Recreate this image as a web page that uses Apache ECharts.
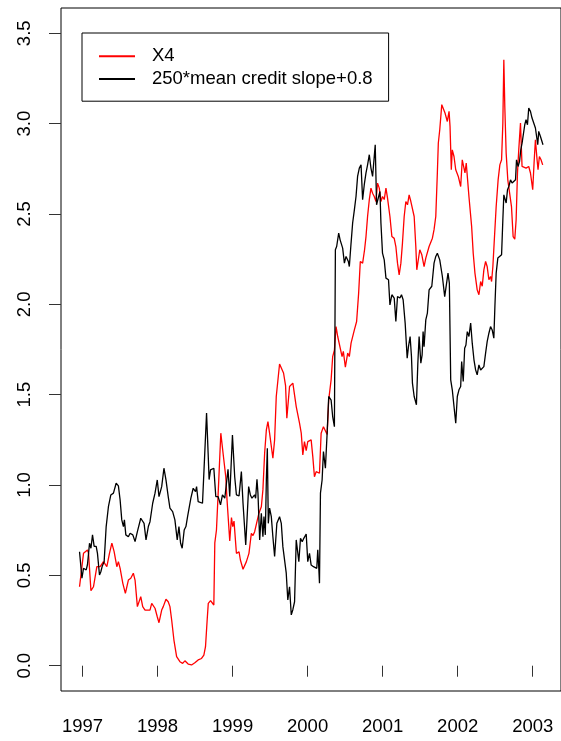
<!DOCTYPE html>
<html>
<head>
<meta charset="utf-8">
<title>X4 vs credit slope</title>
<script src="https://cdn.jsdelivr.net/npm/echarts@6/dist/echarts.min.js"></script>
<style>
  html, body { margin: 0; padding: 0; background: #fff; }
  #chart { width: 561px; height: 741px; }
</style>
</head>
<body>
<div id="chart"></div>
<script>
// time in decimal years
var x4Years = [
  1996.960, 1996.979, 1997.013, 1997.036, 1997.066, 1997.080, 1997.112, 1997.146, 1997.169, 1997.191,
  1997.235, 1997.279, 1997.324, 1997.359, 1997.391, 1997.421, 1997.457, 1997.478, 1997.501, 1997.537,
  1997.571, 1997.611, 1997.643, 1997.677, 1997.700, 1997.731, 1997.749, 1997.776, 1997.802, 1997.833,
  1997.899, 1997.922, 1997.966, 1997.996, 1998.019, 1998.055, 1998.076, 1998.112, 1998.142, 1998.165,
  1998.188, 1998.218, 1998.254, 1998.298, 1998.334, 1998.364, 1998.408, 1998.453, 1998.497, 1998.541,
  1998.586, 1998.617, 1998.639, 1998.661, 1998.676, 1998.706, 1998.732, 1998.750, 1998.763, 1998.785,
  1998.816, 1998.843, 1998.873, 1998.909, 1998.926, 1998.962, 1998.985, 1999.002, 1999.019, 1999.051,
  1999.086, 1999.104, 1999.139, 1999.184, 1999.218, 1999.250, 1999.272, 1999.294, 1999.317, 1999.351,
  1999.383, 1999.404, 1999.427, 1999.450, 1999.471, 1999.493, 1999.516, 1999.537, 1999.560, 1999.582,
  1999.604, 1999.626, 1999.646, 1999.679, 1999.706, 1999.723, 1999.759, 1999.803, 1999.848, 1999.892,
  1999.915, 1999.936, 1999.958, 1999.981, 2000.002, 2000.047, 2000.069, 2000.091, 2000.114, 2000.135,
  2000.158, 2000.180, 2000.211, 2000.237, 2000.260, 2000.281, 2000.313, 2000.334, 2000.357, 2000.379,
  2000.401, 2000.423, 2000.459, 2000.476, 2000.503, 2000.534, 2000.556, 2000.579, 2000.623, 2000.653,
  2000.680, 2000.702, 2000.733, 2000.759, 2000.778, 2000.799, 2000.822, 2000.844, 2000.866, 2000.888,
  2000.911, 2000.932, 2000.955, 2000.977, 2000.998, 2001.021, 2001.044, 2001.065, 2001.078, 2001.097,
  2001.123, 2001.154, 2001.176, 2001.198, 2001.220, 2001.243, 2001.264, 2001.287, 2001.309, 2001.331,
  2001.353, 2001.376, 2001.397, 2001.420, 2001.442, 2001.455, 2001.477, 2001.495, 2001.522, 2001.552,
  2001.575, 2001.596, 2001.619, 2001.641, 2001.663, 2001.685, 2001.708, 2001.729, 2001.742, 2001.761,
  2001.788, 2001.805, 2001.831, 2001.862, 2001.885, 2001.898, 2001.915, 2001.928, 2001.951, 2001.974,
  2002.008, 2002.040, 2002.061, 2002.084, 2002.097, 2002.114, 2002.150, 2002.186, 2002.207, 2002.230,
  2002.260, 2002.283, 2002.306, 2002.327, 2002.349, 2002.372, 2002.393, 2002.416, 2002.438, 2002.452,
  2002.469, 2002.486, 2002.513, 2002.539, 2002.562, 2002.585, 2002.602, 2002.615, 2002.628, 2002.646,
  2002.668, 2002.691, 2002.717, 2002.739, 2002.761, 2002.779, 2002.797, 2002.814, 2002.837, 2002.858,
  2002.881, 2002.911, 2002.947, 2002.970, 2003.000, 2003.018, 2003.036, 2003.058, 2003.071, 2003.089,
  2003.111, 2003.133
];
var x4Values = [
  0.437, 0.446, 0.622, 0.613, 0.640, 0.622, 0.415, 0.437, 0.437, 0.548,
  0.548, 0.576, 0.548, 0.622, 0.678, 0.631, 0.548, 0.576, 0.539, 0.456,
  0.400, 0.474, 0.484, 0.512, 0.474, 0.327, 0.318, 0.382, 0.327, 0.308,
  0.308, 0.345, 0.318, 0.271, 0.238, 0.308, 0.327, 0.368, 0.354, 0.327,
  0.253, 0.142, 0.050, 0.022, 0.013, 0.027, 0.009, 0.004, 0.016, 0.032,
  0.040, 0.059, 0.105, 0.253, 0.345, 0.360, 0.354, 0.336, 0.680, 0.751,
  1.030, 1.287, 1.176, 1.046, 0.917, 0.690, 0.820, 0.770, 0.800, 0.622,
  0.630, 0.585, 0.534, 0.576, 0.622, 0.733, 0.720, 0.742, 0.733, 0.844,
  0.880, 0.973, 1.176, 1.305, 1.351, 1.287, 1.296, 1.148, 1.250, 1.490,
  1.580, 1.670, 1.670, 1.620, 1.550, 1.370, 1.545, 1.564, 1.434, 1.342,
  1.287, 1.167, 1.240, 1.190, 1.240, 1.250, 1.157, 1.046, 1.074, 1.074,
  1.065, 1.287, 1.323, 1.333, 1.280, 1.471, 1.582, 1.711, 1.747, 1.877,
  1.822, 1.830, 1.711, 1.740, 1.652, 1.730, 1.711, 1.785, 1.859, 1.905,
  2.062, 2.237, 2.228, 2.302, 2.375, 2.486, 2.579, 2.643, 2.615, 2.597,
  2.569, 2.671, 2.643, 2.569, 2.597, 2.580, 2.643, 2.588, 2.597, 2.486,
  2.375, 2.365, 2.320, 2.228, 2.163, 2.228, 2.339, 2.486, 2.569, 2.551,
  2.606, 2.569, 2.579, 2.486, 2.320, 2.191, 2.191, 2.302, 2.274, 2.209,
  2.256, 2.265, 2.320, 2.311, 2.366, 2.413, 2.486, 2.727, 2.893, 2.966,
  3.105, 3.105, 3.059, 3.012, 3.068, 2.985, 2.745, 2.855, 2.818, 2.745,
  2.708, 2.652, 2.800, 2.809, 2.727, 2.782, 2.597, 2.431, 2.283, 2.173,
  2.080, 2.053, 2.126, 2.100, 2.191, 2.237, 2.209, 2.136, 2.154, 2.126,
  2.209, 2.339, 2.541, 2.689, 2.772, 2.800, 3.003, 3.354, 3.095, 2.837,
  2.689, 2.680, 2.541, 2.375, 2.361, 2.468, 2.727, 2.855, 3.003, 2.763,
  2.763, 2.754, 2.763, 2.727, 2.634, 2.782, 2.911, 2.800, 2.745, 2.818,
  2.800, 2.772
];

var slopeYears = [
  1996.960, 1996.992, 1997.013, 1997.049, 1997.066, 1997.093, 1997.112, 1997.133, 1997.155, 1997.182,
  1997.199, 1997.226, 1997.244, 1997.262, 1997.288, 1997.315, 1997.345, 1997.377, 1997.412, 1997.448,
  1997.478, 1997.501, 1997.523, 1997.545, 1997.558, 1997.577, 1997.611, 1997.634, 1997.670, 1997.700,
  1997.731, 1997.757, 1997.776, 1997.802, 1997.820, 1997.846, 1997.877, 1997.899, 1997.935, 1997.966,
  1997.996, 1998.019, 1998.055, 1998.085, 1998.112, 1998.142, 1998.165, 1998.201, 1998.231, 1998.262,
  1998.285, 1998.307, 1998.328, 1998.355, 1998.378, 1998.400, 1998.421, 1998.444, 1998.475, 1998.506,
  1998.520, 1998.541, 1998.564, 1998.599, 1998.617, 1998.653, 1998.674, 1998.687, 1998.706, 1998.732,
  1998.750, 1998.776, 1998.807, 1998.839, 1998.865, 1998.896, 1998.918, 1998.939, 1998.962, 1998.998,
  1999.028, 1999.051, 1999.086, 1999.104, 1999.117, 1999.139, 1999.175, 1999.192, 1999.214, 1999.237,
  1999.258, 1999.294, 1999.307, 1999.325, 1999.338, 1999.361, 1999.383, 1999.404, 1999.418, 1999.436,
  1999.450, 1999.463, 1999.476, 1999.493, 1999.516, 1999.537, 1999.560, 1999.590, 1999.626, 1999.649,
  1999.670, 1999.693, 1999.715, 1999.736, 1999.759, 1999.782, 1999.803, 1999.826, 1999.848, 1999.869,
  1999.883, 1999.905, 1999.928, 1999.949, 1999.981, 2000.002, 2000.025, 2000.047, 2000.078, 2000.104,
  2000.122, 2000.135, 2000.148, 2000.158, 2000.171, 2000.193, 2000.211, 2000.237, 2000.260, 2000.281,
  2000.313, 2000.334, 2000.357, 2000.370, 2000.387, 2000.414, 2000.433, 2000.467, 2000.490, 2000.512,
  2000.543, 2000.556, 2000.579, 2000.600, 2000.623, 2000.645, 2000.666, 2000.689, 2000.712, 2000.733,
  2000.755, 2000.778, 2000.799, 2000.822, 2000.844, 2000.866, 2000.888, 2000.901, 2000.919, 2000.941,
  2000.964, 2000.977, 2000.998, 2001.021, 2001.044, 2001.078, 2001.097, 2001.123, 2001.154, 2001.176,
  2001.198, 2001.230, 2001.251, 2001.273, 2001.300, 2001.327, 2001.344, 2001.366, 2001.384, 2001.397,
  2001.420, 2001.450, 2001.469, 2001.486, 2001.509, 2001.526, 2001.539, 2001.552, 2001.575, 2001.596,
  2001.619, 2001.655, 2001.685, 2001.708, 2001.729, 2001.761, 2001.796, 2001.827, 2001.849, 2001.871,
  2001.889, 2001.907, 2001.928, 2001.951, 2001.974, 2001.995, 2002.017, 2002.040, 2002.053, 2002.074,
  2002.093, 2002.110, 2002.128, 2002.150, 2002.173, 2002.194, 2002.217, 2002.239, 2002.260, 2002.283,
  2002.306, 2002.327, 2002.349, 2002.372, 2002.393, 2002.416, 2002.438, 2002.460, 2002.482, 2002.496,
  2002.513, 2002.535, 2002.558, 2002.585, 2002.602, 2002.615, 2002.628, 2002.646, 2002.664, 2002.682,
  2002.704, 2002.725, 2002.748, 2002.771, 2002.784, 2002.805, 2002.824, 2002.841, 2002.858, 2002.881,
  2002.894, 2002.911, 2002.930, 2002.947, 2002.970, 2002.991, 2003.014, 2003.036, 2003.058, 2003.067,
  2003.080, 2003.103, 2003.124, 2003.137
];
var slopeValues = [
  0.631, 0.484, 0.539, 0.530, 0.560, 0.678, 0.650, 0.724, 0.660, 0.660,
  0.622, 0.502, 0.520, 0.550, 0.576, 0.770, 0.880, 0.945, 0.955, 1.010,
  0.995, 0.917, 0.807, 0.770, 0.807, 0.724, 0.714, 0.733, 0.724, 0.687,
  0.742, 0.751, 0.816, 0.807, 0.788, 0.696, 0.770, 0.797, 0.899, 0.955,
  1.028, 0.936, 0.991, 1.093, 1.028, 0.936, 0.872, 0.853, 0.807, 0.696,
  0.770, 0.678, 0.650, 0.751, 0.770, 0.825, 0.825, 0.927, 0.982, 0.964,
  0.991, 0.908, 0.899, 0.899, 0.899, 1.398, 1.176, 1.030, 1.084, 1.084,
  1.093, 0.936, 0.936, 0.890, 0.945, 0.927, 0.936, 1.087, 0.936, 1.277,
  1.046, 0.945, 0.940, 0.945, 1.074, 0.899, 0.668, 0.807, 0.991, 0.945,
  0.927, 0.945, 0.927, 1.032, 0.955, 0.696, 0.844, 0.714, 0.825, 0.724,
  1.030, 1.204, 0.788, 0.872, 0.825, 0.714, 0.604, 0.788, 0.825, 0.788,
  0.659, 0.659, 0.512, 0.364, 0.437, 0.281, 0.310, 0.354, 0.696, 0.705,
  0.576, 0.705, 0.686, 0.705, 0.729, 0.576, 0.622, 0.557, 0.548, 0.557,
  0.539, 0.641, 0.548, 0.456, 0.955, 1.028, 1.185, 1.093, 1.287, 1.490,
  1.470, 1.379, 1.323, 2.302, 2.320, 2.394, 2.357, 2.311, 2.228, 2.265,
  2.237, 2.209, 2.339, 2.450, 2.523, 2.597, 2.708, 2.754, 2.772, 2.579,
  2.662, 2.727, 2.772, 2.828, 2.754, 2.708, 2.818, 2.883, 2.551, 2.560,
  2.625, 2.450, 2.283, 2.246, 2.145, 2.136, 1.997, 2.053, 2.035, 1.905,
  2.043, 2.035, 2.053, 2.025, 1.896, 1.702, 1.766, 1.822, 1.711, 1.564,
  1.490, 1.444, 1.674, 1.822, 1.674, 1.720, 1.849, 1.766, 1.914, 1.951,
  2.080, 2.100, 2.228, 2.265, 2.283, 2.246, 2.154, 2.043, 2.053, 2.173,
  2.117, 1.582, 1.527, 1.518, 1.342, 1.490, 1.527, 1.545, 1.683, 1.573,
  1.757, 1.775, 1.849, 1.822, 1.896, 1.785, 1.693, 1.637, 1.610, 1.665,
  1.637, 1.647, 1.655, 1.730, 1.794, 1.840, 1.877, 1.858, 1.813, 1.988,
  2.173, 2.256, 2.256, 2.274, 2.468, 2.606, 2.615, 2.561, 2.634, 2.652,
  2.689, 2.671, 2.662, 2.689, 2.800, 2.763, 2.790, 2.855, 2.892, 2.883,
  2.994, 3.022, 2.994, 3.086, 3.068, 3.031, 3.022, 2.976, 2.911, 2.883,
  2.957, 2.929, 2.929, 2.883
];

var yearTicks = [1997, 1998, 1999, 2000, 2001, 2002, 2003];
var valueTicks = [0, 0.5, 1, 1.5, 2, 2.5, 3, 3.5];
var seriesNames = ['X4', '250*mean credit slope+0.8'];

var FONT = '"Liberation Sans", Arial, Helvetica, sans-serif';

function zip(xs, ys) {
  return xs.map(function (x, i) { return [x, ys[i]]; });
}

var chart = echarts.init(document.getElementById('chart'), null, { renderer: 'canvas' });

chart.setOption({
  animation: false,
  backgroundColor: '#fff',
  grid: {
    show: true,
    left: 61,
    top: 8,
    width: 501,
    height: 683,
    borderColor: '#000',
    borderWidth: 1,
    backgroundColor: 'transparent'
  },
  legend: {
    orient: 'vertical',
    left: 82,
    top: 33,
    data: seriesNames,
    icon: 'rect',
    itemWidth: 36,
    itemHeight: 2,
    itemGap: 0,
    padding: [12, 16, 11, 17],
    borderColor: '#000',
    borderWidth: 1,
    backgroundColor: '#fff',
    selectedMode: false,
    textStyle: {
      fontFamily: FONT,
      fontSize: 18.5,
      color: '#000',
      lineHeight: 22.6,
      padding: [0, 0, 0, 12]
    }
  },
  xAxis: {
    type: 'value',
    min: 1996.713,
    max: 2003.377,
    axisLine: { show: false },
    splitLine: { show: false },
    axisTick: {
      show: true,
      length: 11,
      customValues: yearTicks,
      lineStyle: { color: '#333', width: 1 }
    },
    axisLabel: {
      customValues: yearTicks,
      margin: 26,
      fontFamily: FONT,
      fontSize: 18.5,
      color: '#000',
      formatter: function (v) { return String(v); }
    }
  },
  yAxis: {
    type: 'value',
    min: -0.14,
    max: 3.64,
    axisLine: { show: false },
    splitLine: { show: false },
    axisTick: {
      show: true,
      length: 12,
      customValues: valueTicks,
      lineStyle: { color: '#333', width: 1 }
    },
    axisLabel: {
      customValues: valueTicks,
      rotate: 90,
      margin: 27,
      fontFamily: FONT,
      fontSize: 18.5,
      color: '#000',
      formatter: function (v) { return v.toFixed(1); }
    }
  },
  series: [
    {
      name: seriesNames[0],
      type: 'line',
      data: zip(x4Years, x4Values),
      showSymbol: false,
      symbol: 'none',
      color: '#ff0000',
      itemStyle: { color: '#ff0000' },
      lineStyle: { color: '#ff0000', width: 1.3 }
    },
    {
      name: seriesNames[1],
      type: 'line',
      data: zip(slopeYears, slopeValues),
      showSymbol: false,
      symbol: 'none',
      color: '#000',
      itemStyle: { color: '#000' },
      lineStyle: { color: '#000', width: 1.3 }
    }
  ]
});
</script>
</body>
</html>
